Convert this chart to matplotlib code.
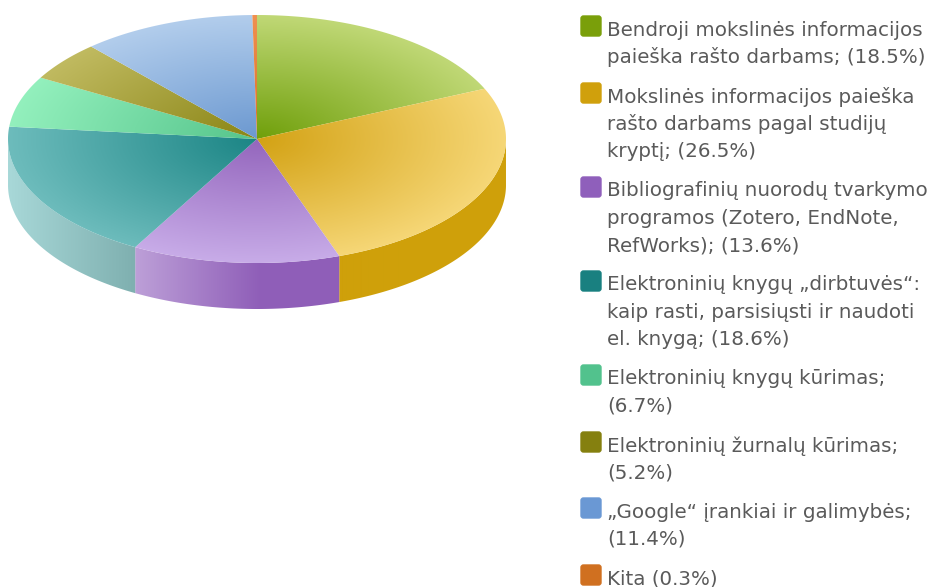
#!/usr/bin/env python3
"""3D-look pie with a wrapped legend, drawn in pixel coordinates."""

import matplotlib

matplotlib.use("Agg")
import matplotlib.pyplot as plt
import numpy as np
from matplotlib.colors import to_rgb
from matplotlib.patches import FancyBboxPatch, Polygon

LABELS = [
    "Bendroji mokslinės informacijos\npaieška rašto darbams; (18.5%)",
    "Mokslinės informacijos paieška\nrašto darbams pagal studijų\nkryptį; (26.5%)",
    "Bibliografinių nuorodų tvarkymo\nprogramos (Zotero, EndNote,\nRefWorks); (13.6%)",
    "Elektroninių knygų „dirbtuvės“:\nkaip rasti, parsisiųsti ir naudoti\nel. knygą; (18.6%)",
    "Elektroninių knygų kūrimas;\n(6.7%)",
    "Elektroninių žurnalų kūrimas;\n(5.2%)",
    "„Google“ įrankiai ir galimybės;\n(11.4%)",
    "Kita (0.3%)",
]
VALUES = [18.5, 26.5, 13.6, 18.6, 6.7, 5.2, 11.4, 0.3]

SWATCH = ["#7a9f0a", "#d0a00c", "#8f5fbb", "#198080", "#52c28d", "#85800f", "#6a98d4", "#d07020"]
INNER = ["#6f9f0a", "#d3a214", "#9466bd", "#1b8585", "#55c48b", "#8a8515", "#6b98d0", "#d9702a"]
OUTER = ["#c0d876", "#f6d777", "#c8ace8", "#6dbcbc", "#93f0bd", "#c0ba60", "#b2cdec", "#f09050"]
# wall colours at the left and right end of each visible side, x in px
WALLS = {
    1: ("#cfa00a", "#cfa00a", 337, 506),
    2: ("#bda0d8", "#8f5eb8", 134, 260),
    3: ("#a8d8d8", "#7fb0b0", 8, 134),
}

CX, CY, RX, RY, DEPTH = 257, 139, 249, 124, 46
W, H = 931, 587
LINE_H = 27.4
SWATCH_Y = [15, 82, 176, 270, 364, 431, 497, 564]


def edge(t):
    return CX + RX * np.sin(t), CY - RY * np.cos(t)


def main():
    fig = plt.figure(figsize=(W / 100, H / 100), dpi=100, facecolor="white")
    ax = fig.add_axes([0, 0, 1, 1])

    # the printed shares add up to a bit over 100, so scale them to a full turn
    shares = np.array(VALUES) / sum(VALUES)
    bounds = 2 * np.pi * np.r_[0, np.cumsum(shares)]

    # side walls
    xx, yy = np.meshgrid(np.arange(0, 520), np.arange(0, 330))
    for i, (left, right, x0, x1) in WALLS.items():
        a, b = bounds[i], bounds[i + 1]
        t = np.linspace(a, b, 120)
        # keep only the front half of the rim
        t = t[(t >= np.pi / 2) & (t <= 3 * np.pi / 2)]
        ex, ey = edge(t)
        pts = np.r_[np.c_[ex, ey], np.c_[ex, ey + DEPTH][::-1]]
        clip = Polygon(pts, closed=True, transform=ax.transData, fc="none", ec="none")
        ax.add_patch(clip)
        f = np.clip((xx - x0) / (x1 - x0), 0, 1)[..., None]
        img = (1 - f) * np.array(to_rgb(left)) + f * np.array(to_rgb(right))
        im = ax.imshow(img, extent=(0, 520, 330, 0), aspect="auto", zorder=2)
        im.set_clip_path(clip)

    # top face, shaded from the centre out to the rim
    rad = np.hypot((xx - CX) / RX, (yy - CY) / RY)
    for i in range(len(VALUES)):
        t = np.linspace(bounds[i], bounds[i + 1], 150)
        ex, ey = edge(t)
        pts = np.r_[[[CX, CY]], np.c_[ex, ey]]
        clip = Polygon(pts, closed=True, transform=ax.transData, fc="none", ec="none")
        ax.add_patch(clip)
        f = np.clip(rad, 0, 1)[..., None]
        img = (1 - f) * np.array(to_rgb(INNER[i])) + f * np.array(to_rgb(OUTER[i]))
        im = ax.imshow(img, extent=(0, 520, 330, 0), aspect="auto", zorder=3)
        im.set_clip_path(clip)

    # legend
    for label, color, y in zip(LABELS, SWATCH, SWATCH_Y):
        ax.add_patch(
            FancyBboxPatch(
                (581, y + 1),
                20,
                20,
                boxstyle="round,pad=0,rounding_size=2.5",
                fc=color,
                ec=color,
                lw=1,
                zorder=4,
            )
        )
        for k, line in enumerate(label.split("\n")):
            ax.text(
                607,
                y + 15 + k * LINE_H,
                line,
                fontsize=14.3,
                color="#5a5a5a",
                family="DejaVu Sans",
                ha="left",
                va="center",
                zorder=5,
            )

    ax.set_xlim(0, W)
    ax.set_ylim(H, 0)
    ax.axis("off")
    fig.savefig("out.png", dpi=100, facecolor="white")
    plt.close(fig)


if __name__ == "__main__":
    main()
